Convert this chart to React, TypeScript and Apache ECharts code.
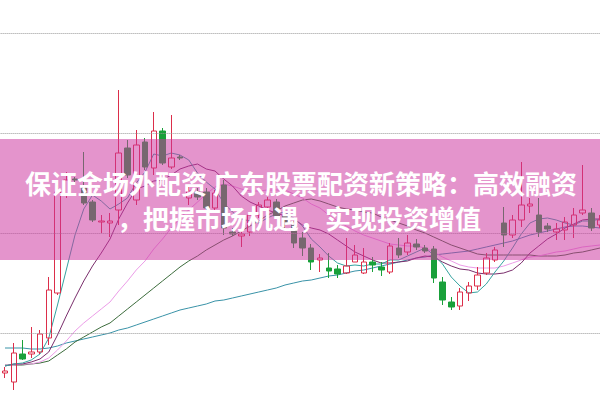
import React, { useEffect, useRef } from "react";
import * as echarts from "echarts";

const days = Array.from({ length: 69 }, (_, i) => `D${i + 1}`);

const openP = [9.60, 9.51, 9.79, 9.79, 9.81, 9.95, 10.40, 11.38, 11.54, 11.46, 11.31, 11.11, 11.10, 11.23, 11.85, 11.33, 11.91, 11.65, 12.02, 11.66, 11.76, 11.35, 11.41, 11.41, 11.25, 11.48, 11.01, 10.97, 11.01, 11.18, 11.26, 11.31, 11.17, 11.08, 10.95, 10.85, 10.73, 10.65, 10.64, 10.60, 10.71, 10.60, 10.71, 10.66, 10.61, 10.85, 10.81, 10.89, 10.85, 10.84, 10.51, 10.31, 10.27, 10.40, 10.47, 10.60, 10.73, 11.10, 10.98, 11.13, 11.27, 11.18, 11.07, 11.01, 11.03, 11.08, 11.20, 11.20, 11.08];
const closeP = [9.62, 9.80, 9.74, 9.81, 9.99, 10.43, 11.41, 11.53, 11.53, 11.30, 11.13, 11.12, 11.12, 11.80, 11.58, 11.88, 11.66, 12.02, 11.70, 11.75, 11.75, 11.42, 11.36, 11.25, 11.40, 11.05, 10.99, 10.99, 11.18, 11.28, 11.33, 11.17, 11.09, 10.90, 10.85, 10.71, 10.75, 10.62, 10.59, 10.67, 10.78, 10.71, 10.68, 10.63, 10.87, 10.78, 10.90, 10.86, 10.82, 10.55, 10.33, 10.26, 10.41, 10.47, 10.58, 10.75, 10.83, 10.98, 11.13, 11.28, 11.29, 11.01, 11.04, 11.04, 11.11, 11.18, 11.23, 11.05, 11.13];
const lowP = [9.55, 9.43, 9.73, 9.75, 9.79, 9.88, 10.38, 11.35, 11.51, 11.28, 11.11, 11.00, 10.96, 11.08, 11.55, 11.28, 11.63, 11.58, 11.68, 11.64, 11.73, 11.28, 11.33, 11.23, 11.23, 10.98, 10.97, 10.86, 10.97, 11.15, 11.24, 11.14, 11.05, 10.85, 10.77, 10.63, 10.61, 10.55, 10.55, 10.59, 10.71, 10.59, 10.61, 10.57, 10.59, 10.75, 10.78, 10.83, 10.80, 10.50, 10.28, 10.23, 10.23, 10.32, 10.43, 10.58, 10.71, 10.86, 10.95, 11.06, 11.20, 10.96, 11.01, 10.93, 10.93, 10.95, 11.18, 11.02, 11.05];
const highP = [9.66, 9.90, 9.93, 10.06, 10.03, 10.56, 11.48, 11.61, 11.56, 11.81, 11.33, 11.18, 11.20, 12.43, 11.93, 12.03, 11.95, 12.21, 12.05, 12.18, 11.78, 11.48, 11.45, 11.45, 11.43, 11.53, 11.05, 11.05, 11.21, 11.31, 11.36, 11.34, 11.21, 11.12, 11.01, 10.89, 10.79, 10.80, 10.68, 10.95, 10.88, 10.85, 10.76, 10.71, 10.90, 10.95, 10.98, 10.94, 10.88, 10.87, 10.56, 10.36, 10.45, 10.51, 10.66, 10.80, 10.86, 11.26, 11.18, 11.71, 11.35, 11.35, 11.10, 11.10, 11.16, 11.25, 11.68, 11.25, 11.18];

const ma5 = [9.67, 9.69, 9.70, 9.73, 9.79, 9.95, 10.28, 10.63, 10.98, 11.24, 11.38, 11.32, 11.24, 11.29, 11.35, 11.50, 11.61, 11.79, 11.77, 11.80, 11.78, 11.73, 11.60, 11.51, 11.44, 11.30, 11.21, 11.14, 11.12, 11.10, 11.15, 11.19, 11.21, 11.15, 11.07, 10.94, 10.86, 10.77, 10.70, 10.67, 10.68, 10.67, 10.69, 10.69, 10.73, 10.73, 10.77, 10.81, 10.85, 10.78, 10.69, 10.56, 10.47, 10.40, 10.41, 10.49, 10.61, 10.72, 10.85, 10.99, 11.10, 11.14, 11.15, 11.13, 11.10, 11.08, 11.12, 11.12, 11.14];
const ma10 = [9.67, 9.69, 9.69, 9.71, 9.74, 9.81, 9.98, 10.17, 10.35, 10.52, 10.67, 10.80, 10.94, 11.14, 11.30, 11.44, 11.47, 11.52, 11.53, 11.58, 11.64, 11.67, 11.69, 11.64, 11.62, 11.54, 11.47, 11.37, 11.31, 11.27, 11.23, 11.20, 11.17, 11.14, 11.08, 11.05, 11.03, 10.99, 10.93, 10.87, 10.81, 10.77, 10.73, 10.70, 10.70, 10.71, 10.72, 10.75, 10.77, 10.76, 10.71, 10.67, 10.64, 10.63, 10.60, 10.59, 10.59, 10.60, 10.63, 10.70, 10.80, 10.87, 10.94, 10.99, 11.05, 11.09, 11.13, 11.14, 11.14];
const ma20 = [9.68, 9.68, 9.69, 9.69, 9.71, 9.75, 9.83, 9.92, 10.02, 10.10, 10.17, 10.24, 10.31, 10.42, 10.52, 10.63, 10.72, 10.84, 10.94, 11.05, 11.15, 11.23, 11.31, 11.39, 11.46, 11.49, 11.47, 11.44, 11.42, 11.42, 11.43, 11.43, 11.43, 11.39, 11.35, 11.29, 11.25, 11.18, 11.12, 11.07, 11.02, 10.98, 10.95, 10.92, 10.89, 10.88, 10.87, 10.87, 10.85, 10.81, 10.76, 10.72, 10.68, 10.66, 10.65, 10.65, 10.65, 10.67, 10.70, 10.73, 10.76, 10.77, 10.79, 10.81, 10.82, 10.84, 10.86, 10.87, 10.88];
const ma30 = [9.68, 9.68, 9.68, 9.69, 9.70, 9.72, 9.78, 9.84, 9.91, 9.96, 10.01, 10.06, 10.10, 10.17, 10.24, 10.31, 10.38, 10.45, 10.52, 10.59, 10.66, 10.72, 10.77, 10.83, 10.88, 10.93, 10.97, 11.02, 11.07, 11.12, 11.18, 11.22, 11.27, 11.30, 11.33, 11.34, 11.32, 11.29, 11.26, 11.24, 11.23, 11.21, 11.20, 11.16, 11.13, 11.10, 11.07, 11.03, 11.00, 10.96, 10.92, 10.88, 10.85, 10.82, 10.79, 10.78, 10.78, 10.78, 10.78, 10.78, 10.78, 10.77, 10.77, 10.77, 10.78, 10.80, 10.81, 10.83, 10.85];
const ma60 = [9.85, 9.85, 9.85, 9.84, 9.84, 9.85, 9.87, 9.90, 9.92, 9.94, 9.96, 9.98, 10.00, 10.03, 10.05, 10.08, 10.11, 10.14, 10.17, 10.20, 10.23, 10.25, 10.27, 10.29, 10.32, 10.33, 10.35, 10.37, 10.39, 10.41, 10.43, 10.45, 10.48, 10.50, 10.52, 10.53, 10.55, 10.57, 10.58, 10.60, 10.62, 10.63, 10.65, 10.67, 10.69, 10.71, 10.73, 10.75, 10.76, 10.78, 10.79, 10.80, 10.81, 10.82, 10.84, 10.86, 10.88, 10.90, 10.92, 10.95, 10.98, 11.00, 11.02, 11.04, 11.06, 11.07, 11.07, 11.06, 11.05];

const gridLevels = [10, 11, 12, 13];

const titleLine1 = "保证金场外配资 广东股票配资新策略：高效融资";
const titleLine2 = "，把握市场机遇，实现投资增值";

export default function App() {
  const ref = useRef<HTMLDivElement>(null);
  useEffect(() => {
    if (!ref.current) return;
    const chart = echarts.init(ref.current, undefined, { renderer: "svg" });
    const kData = days.map((_, i) => [openP[i], closeP[i], lowP[i], highP[i]]);
    const maLine = (name: string, data: number[], color: string, extra: any = {}) => ({
      name,
      type: "line",
      data,
      symbol: "none",
      showSymbol: false,
      clip: false,
      lineStyle: { width: 1, color },
      z: 3,
      ...extra,
    });
    chart.setOption({
      animation: false,
      backgroundColor: "#ffffff",
      grid: { left: 0.625, width: 603.75, top: 0, height: 400, outerBoundsMode: "none", containLabel: false },
      xAxis: {
        type: "category",
        data: days,
        boundaryGap: true,
        axisLine: { show: false },
        axisTick: { show: false },
        axisLabel: { show: false },
        splitLine: { show: false },
      },
      yAxis: {
        type: "value",
        min: 9.33,
        max: 13.33,
        axisLine: { show: false },
        axisTick: { show: false },
        axisLabel: { show: false },
        splitLine: { show: false },
      },
      series: [
        maLine("MA60", ma60, "#3a93a8", {
          z: 2,
          markLine: {
            silent: true,
            symbol: ["none", "none"],
            label: { show: false },
            lineStyle: { type: "dotted", color: "#999999", width: 1 },
            data: gridLevels.map((v) => ({ yAxis: v })),
          },
        }),
        maLine("MA30", ma30, "#3c6c3c"),
        maLine("MA20", ma20, "#ec9ce8"),
        maLine("MA10", ma10, "#7a2e6c"),
        maLine("MA5", ma5, "#35a3a0"),
        {
          name: "K",
          type: "candlestick",
          data: kData,
          barWidth: 6,
          clip: false,
          z: 4,
          itemStyle: {
            color: "rgba(255,255,255,0)",
            color0: "#19a03a",
            borderColor: "#dc2e4a",
            borderColor0: "#19a03a",
            borderWidth: 1,
          },
        },
      ],
      graphic: [
        {
          type: "rect",
          left: 0,
          top: 139,
          shape: { x: 0, y: 0, width: 600, height: 121 },
          style: { fill: "rgba(204,53,158,0.53)" },
          z: 100,
        },
        {
          type: "text",
          x: 301,
          y: 182,
          z: 101,
          style: {
            text: titleLine1,
            fill: "#ffffff",
            font: 'bold 26px "Noto Sans CJK SC", sans-serif',
            textAlign: "center",
            textVerticalAlign: "middle",
          },
        },
        {
          type: "text",
          x: 299,
          y: 217,
          z: 101,
          style: {
            text: titleLine2,
            fill: "#ffffff",
            font: 'bold 26px "Noto Sans CJK SC", sans-serif',
            textAlign: "center",
            textVerticalAlign: "middle",
          },
        },
      ],
    });
    return () => chart.dispose();
  }, []);
  return <div ref={ref} style={{ width: 600, height: 400, position: "absolute", left: 0, top: 0 }} />;
}
